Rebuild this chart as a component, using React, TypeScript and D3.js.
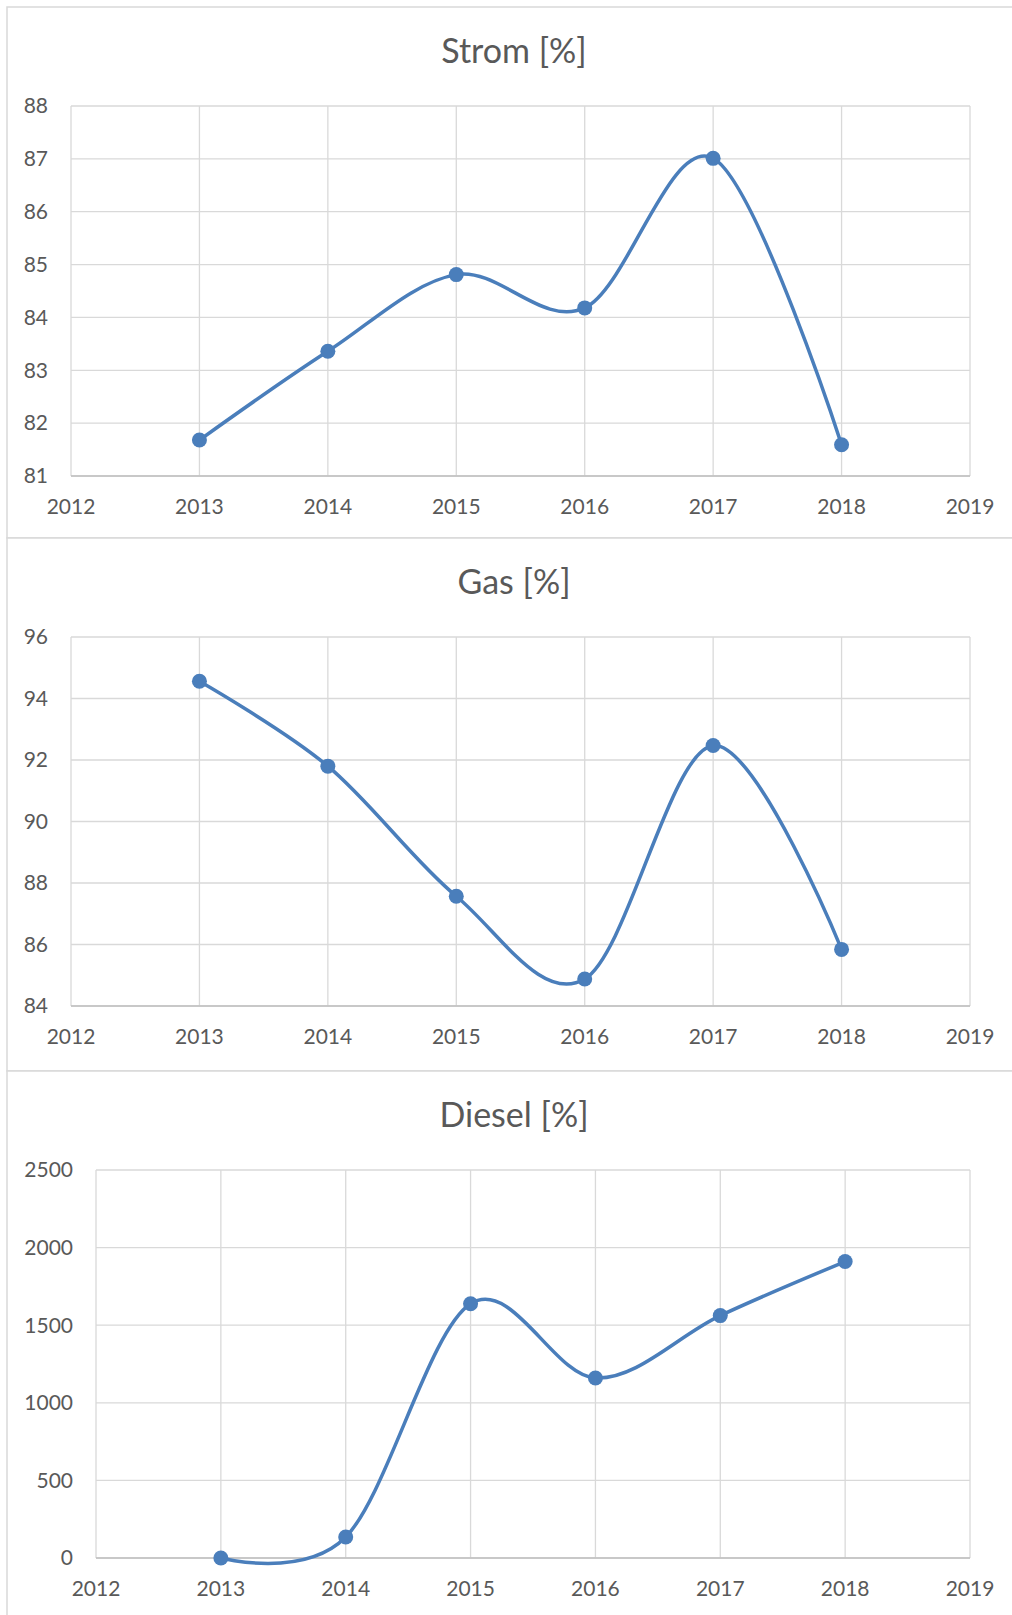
import React from 'react';
import * as d3 from 'd3';

// values
const years = [2013, 2014, 2015, 2016, 2017, 2018];
const xTicks = [2012, 2013, 2014, 2015, 2016, 2017, 2018, 2019];

const stromValues = [81.68, 83.36, 84.81, 84.18, 87.01, 81.59];
const stromTicks = [81, 82, 83, 84, 85, 86, 87, 88];

const gasValues = [94.56, 91.8, 87.57, 84.88, 92.47, 85.84];
const gasTicks = [84, 86, 88, 90, 92, 94, 96];

const dieselValues = [0, 135, 1638, 1160, 1562, 1910];
const dieselTicks = [0, 500, 1000, 1500, 2000, 2500];

const FONT = 'Lato, "Open Sans", sans-serif';
const TEXT = '#595959';
const GRID = '#d9d9d9';
const BLUE = '#4a7ebb';

function Panel(props) {
  const { top, height, title, values, ticks, left, plotH } = props;
  const plotTop = top + 99;
  const plotBottom = plotTop + plotH;
  const right = 970;

  const x = d3.scaleLinear()
    .domain([xTicks[0], xTicks[xTicks.length - 1]])
    .range([left, right]);
  const y = d3.scaleLinear()
    .domain([ticks[0], ticks[ticks.length - 1]])
    .range([plotBottom, plotTop]);

  const line = d3.line()
    .x(function (d) { return x(d[0]); })
    .y(function (d) { return y(d[1]); })
    .curve(d3.curveCardinal.tension(0));

  const pts = years.map(function (yr, i) { return [yr, values[i]]; });

  return (
    <g>
      <rect x={7} y={top} width={1014} height={height} fill="#fff" stroke={GRID} strokeWidth={1.5} />
      <text x={514} y={top + 56} textAnchor="middle" fontFamily={FONT} fontSize={34} fill={TEXT}>{title}</text>
      {ticks.map(function (t) {
        return <line key={'h' + t} x1={left} x2={right} y1={y(t)} y2={y(t)} stroke={GRID} strokeWidth={1.3} />;
      })}
      {xTicks.map(function (t) {
        return <line key={'v' + t} x1={x(t)} x2={x(t)} y1={plotTop} y2={plotBottom} stroke={GRID} strokeWidth={1.3} />;
      })}
      <line x1={left} x2={right} y1={plotBottom} y2={plotBottom} stroke="#bfbfbf" strokeWidth={1.3} />
      {ticks.map(function (t) {
        return (
          <text key={'yl' + t} x={left - 23} y={y(t)} dy="0.35em" textAnchor="end"
            fontFamily={FONT} fontSize={21} fill={TEXT}>{t}</text>
        );
      })}
      {xTicks.map(function (t) {
        return (
          <text key={'xl' + t} x={x(t)} y={plotBottom + 31} dy="0.35em" textAnchor="middle"
            fontFamily={FONT} fontSize={21} fill={TEXT}>{t}</text>
        );
      })}
      <path d={line(pts)} fill="none" stroke={BLUE} strokeWidth={3.5} strokeLinecap="round" />
      {pts.map(function (p) {
        return <circle key={'c' + p[0]} cx={x(p[0])} cy={y(p[1])} r={7.5} fill={BLUE} />;
      })}
    </g>
  );
}

export default function App() {
  return (
    <svg width={1012} height={1615} style={{ position: 'absolute', left: 0, top: 0, background: '#fff' }}>
      <Panel top={7} height={531} title="Strom [%]" values={stromValues} ticks={stromTicks} left={71} plotH={370} />
      <Panel top={538} height={533} title="Gas [%]" values={gasValues} ticks={gasTicks} left={71} plotH={369} />
      <Panel top={1071} height={600} title="Diesel [%]" values={dieselValues} ticks={dieselTicks} left={96} plotH={388} />
    </svg>
  );
}
